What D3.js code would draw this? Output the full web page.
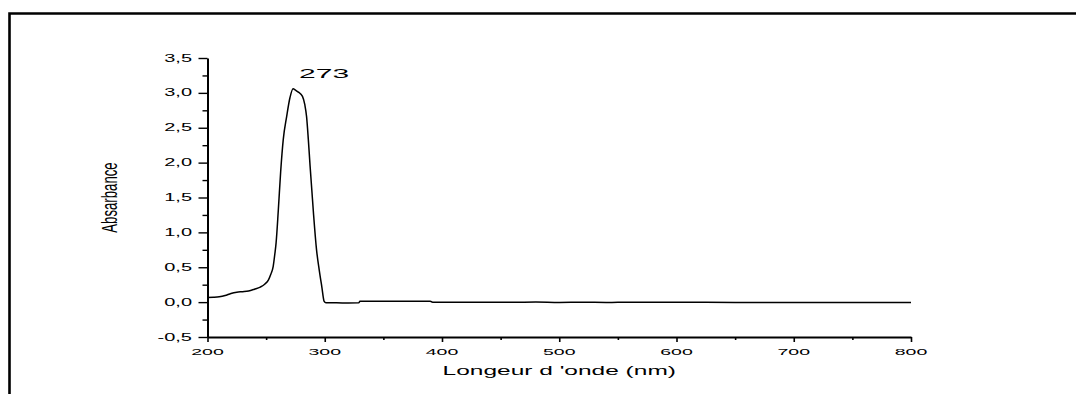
<!DOCTYPE html>
<html>
<head>
<meta charset="utf-8">
<script src="https://cdn.jsdelivr.net/npm/d3@7"></script>
<style>
  body { margin: 0; background: #fff; }
  text { font-family: "Liberation Sans", Arial, sans-serif; fill: #000; }
</style>
</head>
<body>
<div class="chart"></div>
<script>
// spectrum (nm, absorbance)
const wavelength = [200, 205, 210, 215, 220, 225, 230, 235, 240, 245, 249, 252, 254, 256, 257.5, 258.5, 260.4, 262.4,
  264.6, 267.5, 270.3, 273, 275, 277.5, 281, 283, 284.5, 286, 287.5, 289, 290.5, 293, 295.3, 297.5, 299.5,
  301, 310, 320, 329, 330, 340, 360, 380, 390, 392, 400, 420, 440, 460, 480, 500, 520, 540, 560, 580, 600,
  650, 700, 750, 800];
const absorbance = [0.067, 0.070, 0.077, 0.095, 0.125, 0.143, 0.150, 0.160, 0.185, 0.215, 0.26, 0.32, 0.40, 0.51,
  0.70, 0.85, 1.32, 1.87, 2.33, 2.66, 2.93, 3.06, 3.04, 3.01, 2.95, 2.83, 2.66, 2.33, 1.95, 1.60, 1.25,
  0.75, 0.46, 0.22, 0.01, -0.01, -0.01, -0.012, -0.01, 0.012, 0.013, 0.012, 0.012, 0.011, 0.0, 0.0, -0.003,
  -0.002, -0.003, 0.002, -0.004, -0.003, -0.004, -0.002, -0.003, -0.003, -0.004, -0.004, -0.004, -0.004];

const xTicks = [200, 300, 400, 500, 600, 700, 800];
const xMinor = [250, 350, 450, 550, 650, 750];
const yTicks = [-0.5, 0, 0.5, 1, 1.5, 2, 2.5, 3, 3.5];
const yMinor = [-0.25, 0.25, 0.75, 1.25, 1.75, 2.25, 2.75, 3.25];
const peakLabel = '273';
const peakAt = 273;

const w = 1076;
const h = 394;
const margin = { top: 58, right: 165, bottom: 57, left: 207.5 };
const squash = 0.5; // the figure is flattened vertically

const data = wavelength.map((d, i) => ({ x: d, y: absorbance[i] }));

const xScale = d3.scaleLinear()
                 .domain([200, 800])
                 .range([margin.left, w - margin.right]);

const yScale = d3.scaleLinear()
                 .domain([-0.5, 3.5])
                 .range([h - margin.bottom, margin.top]);

const svg = d3.select('.chart')
              .append('svg')
              .attr('width', w)
              .attr('height', h);

// frame (top + left only)
svg.append('path')
   .attr('d', `M9.5,${h} V13.5 H${w}`)
   .attr('fill', 'none')
   .attr('stroke', '#000')
   .attr('stroke-width', 2.6);

// x axis
svg.append('g')
   .attr('transform', `translate(0, ${h - margin.bottom})`)
   .call(d3.axisBottom(xScale).tickValues(xTicks).tickSize(5).tickSizeOuter(0).tickFormat(''))
   .call(g => g.select('.domain').attr('stroke-width', 1.8))
   .call(g => g.selectAll('.tick line').attr('stroke-width', 1.6));

svg.append('g')
   .attr('transform', `translate(0, ${h - margin.bottom})`)
   .call(d3.axisBottom(xScale).tickValues(xMinor).tickSize(3).tickSizeOuter(0).tickFormat(''))
   .call(g => g.select('.domain').remove())
   .call(g => g.selectAll('.tick line').attr('stroke-width', 1.6));

// y axis
svg.append('g')
   .attr('transform', `translate(${margin.left}, 0)`)
   .call(d3.axisLeft(yScale).tickValues(yTicks).tickSize(9).tickSizeOuter(0).tickFormat(''))
   .call(g => g.select('.domain').attr('stroke-width', 2))
   .call(g => g.selectAll('.tick line').attr('stroke-width', 1.4));

svg.append('g')
   .attr('transform', `translate(${margin.left}, 0)`)
   .call(d3.axisLeft(yScale).tickValues(yMinor).tickSize(5).tickSizeOuter(0).tickFormat(''))
   .call(g => g.select('.domain').remove())
   .call(g => g.selectAll('.tick line').attr('stroke-width', 1.4));

const fmt = v => d3.format('.1f')(v).replace('.', ',').replace('\u2212', '-');

svg.selectAll('.xlab')
   .data(xTicks)
   .enter()
   .append('text')
   .attr('class', 'xlab')
   .attr('transform', d => `translate(${xScale(d)}, 355) scale(1, ${squash})`)
   .style('text-anchor', 'middle')
   .style('font-size', '19.5px')
   .text(d => d);

svg.selectAll('.ylab')
   .data(yTicks)
   .enter()
   .append('text')
   .attr('class', 'ylab')
   .attr('transform', d => `translate(192, ${yScale(d) + 3.6}) scale(1, ${squash})`)
   .style('text-anchor', 'end')
   .style('font-size', '20px')
   .text(d => fmt(d));

// spectrum
const line = d3.line()
               .x(d => xScale(d.x))
               .y(d => yScale(d.y))
               .curve(d3.curveMonotoneX);

svg.append('path')
   .datum(data)
   .attr('d', line)
   .attr('fill', 'none')
   .attr('stroke', '#000')
   .attr('stroke-width', 1.5);

// labels
svg.append('text')
   .attr('transform', `translate(${xScale(peakAt) + 6}, 77.5) scale(1, 0.44)`)
   .style('text-anchor', 'start')
   .style('font-size', '30px')
   .text(peakLabel);

svg.append('text')
   .attr('transform', `translate(${(xScale(200) + xScale(800)) / 2}, 375) scale(1, ${squash})`)
   .style('text-anchor', 'middle')
   .style('font-size', '24.5px')
   .text("Longeur d 'onde (nm)");

svg.append('text')
   .attr('transform', `translate(117, ${(yScale(-0.5) + yScale(3.5)) / 2}) scale(1, 0.6) rotate(-90)`)
   .style('text-anchor', 'middle')
   .style('font-size', '22px')
   .text('Absarbance');
</script>
</body>
</html>
